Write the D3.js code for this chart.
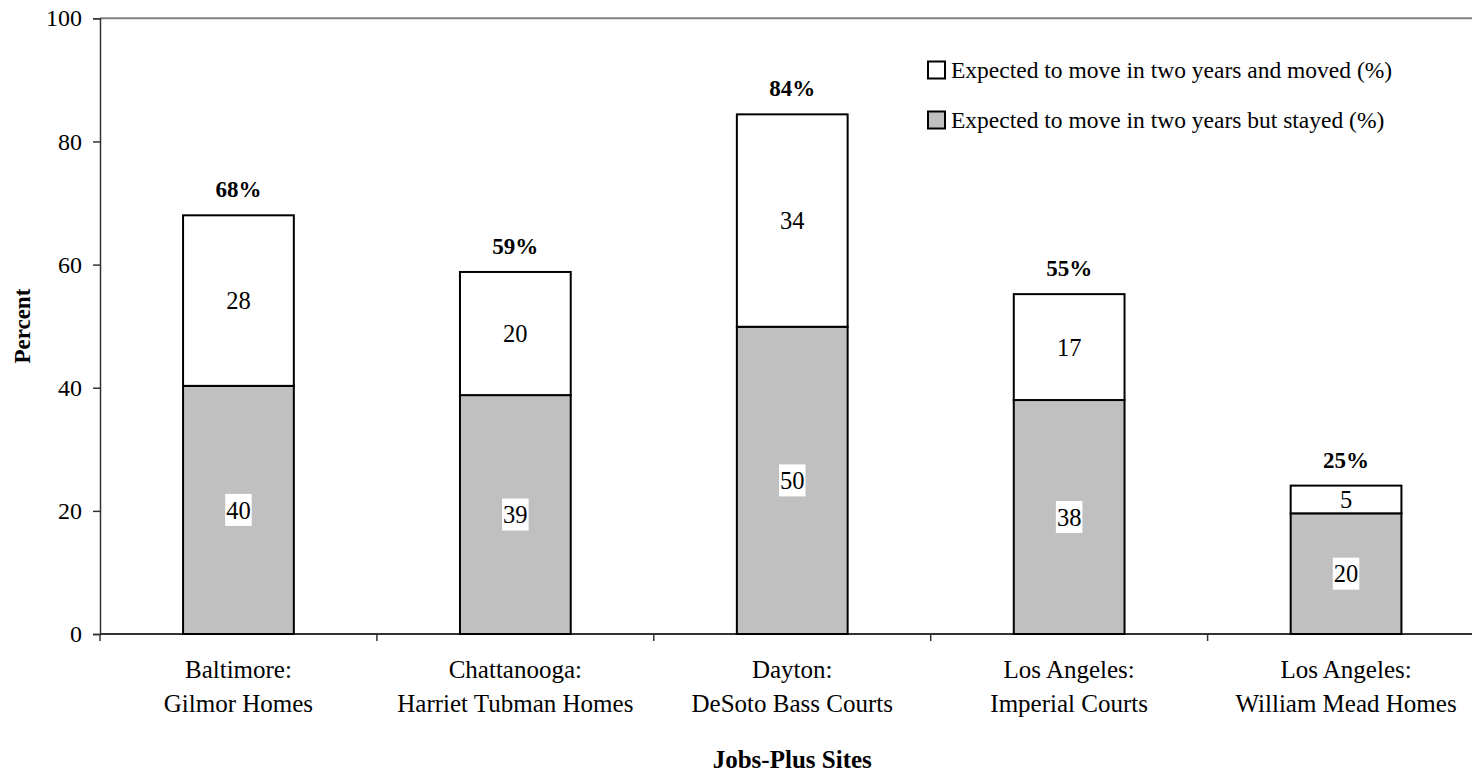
<!DOCTYPE html>
<html>
<head>
<meta charset="utf-8">
<script src="https://cdn.jsdelivr.net/npm/d3@7"></script>
<style>
  html, body { margin: 0; padding: 0; background: #fff; }
  svg { display: block; font-family: "Liberation Serif", "Times New Roman", serif; }
</style>
</head>
<body>
<svg id="chart" width="1472" height="775"></svg>
<script>
const categories = [
  ["Baltimore:", "Gilmor Homes"],
  ["Chattanooga:", "Harriet Tubman Homes"],
  ["Dayton:", "DeSoto Bass Courts"],
  ["Los Angeles:", "Imperial Courts"],
  ["Los Angeles:", "William Mead Homes"]
];
const stayed = [40.3, 38.8, 49.9, 38.0, 19.6];
const moved = [27.7, 20.0, 34.5, 17.2, 4.5];
const stayedLabels = ["40", "39", "50", "38", "20"];
const movedLabels = ["28", "20", "34", "17", "5"];
const totalLabels = ["68%", "59%", "84%", "55%", "25%"];
const yTicks = [0, 20, 40, 60, 80, 100];
const seriesNames = ["Expected to move in two years and moved (%)", "Expected to move in two years but stayed (%)"];
const seriesColors = ["#ffffff", "#c0c0c0"];

(function () {
const svg = d3.select("#chart");
const pLeft = 100, pRight = 1484.5, pTop = 18.3, pBottom = 634;
const fs = 24.5;

const x = d3.scaleBand().domain(d3.range(categories.length)).range([pLeft, pRight]).padding(0);
const y = d3.scaleLinear().domain([0, 100]).range([pBottom, pTop]);
const barW = x.bandwidth() * 0.4;

// top frame line
svg.append("line").attr("x1", pLeft).attr("x2", pRight).attr("y1", y(100)).attr("y2", y(100))
  .attr("stroke", "#808080").attr("stroke-width", 2);

// y axis
const yAxis = svg.append("g").attr("transform", `translate(${pLeft},0)`)
  .call(d3.axisLeft(y).tickValues(yTicks).tickSize(7).tickPadding(11).tickFormat(d3.format("d")));
yAxis.select(".domain").attr("stroke", "#333").attr("stroke-width", 1.5);
yAxis.selectAll(".tick line").attr("stroke", "#333").attr("stroke-width", 1.5);
yAxis.selectAll(".tick text").attr("font-size", 24).attr("font-family", "Liberation Serif").attr("fill", "#000");

// x axis line and boundary ticks
const bounds = d3.range(categories.length + 1).map(i => pLeft + i * x.step());
svg.append("line").attr("x1", pLeft).attr("x2", pRight).attr("y1", pBottom).attr("y2", pBottom)
  .attr("stroke", "#333").attr("stroke-width", 2);
svg.selectAll(".xtick").data(bounds).enter().append("line")
  .attr("x1", d => d).attr("x2", d => d).attr("y1", pBottom).attr("y2", pBottom + 7)
  .attr("stroke", "#333").attr("stroke-width", 1.5);

const cx = i => x(i) + x.bandwidth() / 2;

// category labels
const catG = svg.selectAll(".cat").data(categories).enter().append("text")
  .attr("text-anchor", "middle").attr("font-size", 25).attr("fill", "#000");
catG.append("tspan").attr("x", (d, i) => cx(i)).attr("y", 678).text(d => d[0]);
catG.append("tspan").attr("x", (d, i) => cx(i)).attr("y", 712).text(d => d[1]);

// bars
svg.selectAll(".stayed").data(stayed).enter().append("rect")
  .attr("x", (d, i) => cx(i) - barW / 2).attr("width", barW)
  .attr("y", d => y(d)).attr("height", d => y(0) - y(d))
  .attr("fill", seriesColors[1]).attr("stroke", "#000").attr("stroke-width", 2);
svg.selectAll(".moved").data(moved).enter().append("rect")
  .attr("x", (d, i) => cx(i) - barW / 2).attr("width", barW)
  .attr("y", (d, i) => y(stayed[i] + d)).attr("height", (d, i) => y(stayed[i]) - y(stayed[i] + d))
  .attr("fill", seriesColors[0]).attr("stroke", "#000").attr("stroke-width", 2);

// moved labels
svg.selectAll(".mlab").data(moved).enter().append("text")
  .attr("x", (d, i) => cx(i)).attr("y", (d, i) => y(stayed[i] + d / 2))
  .attr("dy", "0.35em").attr("text-anchor", "middle").attr("font-size", fs).attr("fill", "#000")
  .text((d, i) => movedLabels[i]);

// stayed labels with white boxes
const sl = svg.selectAll(".slab").data(stayed).enter().append("g");
sl.each(function (d, i) {
  const g = d3.select(this);
  const t = g.append("text").attr("x", cx(i)).attr("y", y(d / 2)).attr("dy", "0.35em")
    .attr("text-anchor", "middle").attr("font-size", fs).attr("fill", "#000").text(stayedLabels[i]);
  const bb = t.node().getBBox();
  g.insert("rect", "text").attr("x", bb.x - 1).attr("y", y(d / 2) - 16).attr("width", bb.width + 2).attr("height", 32)
    .attr("fill", "#fff");
});

// total labels
svg.selectAll(".tlab").data(stayed).enter().append("text")
  .attr("x", (d, i) => cx(i)).attr("y", (d, i) => y(d + moved[i]) - 26)
  .attr("dy", "0.35em").attr("text-anchor", "middle").attr("font-size", 23).attr("font-weight", "bold")
  .attr("fill", "#000").text((d, i) => totalLabels[i]);

// legend
const leg = svg.selectAll(".leg").data(seriesNames).enter().append("g")
  .attr("transform", (d, i) => `translate(928, ${70 + i * 50})`);
leg.append("rect").attr("x", 0).attr("y", -8.5).attr("width", 17).attr("height", 17)
  .attr("fill", (d, i) => seriesColors[i]).attr("stroke", "#000").attr("stroke-width", 2);
leg.append("text").attr("x", 23).attr("y", 0).attr("dy", "0.33em").attr("font-size", 23.5).attr("fill", "#000")
  .text(d => d);

// axis titles
svg.append("text").attr("transform", `translate(22, ${(pTop + pBottom) / 2}) rotate(-90)`)
  .attr("text-anchor", "middle").attr("dy", "0.35em").attr("font-size", 23).attr("font-weight", "bold").text("Percent");
svg.append("text").attr("x", (pLeft + pRight) / 2).attr("y", 768)
  .attr("text-anchor", "middle").attr("font-size", 25).attr("font-weight", "bold").text("Jobs-Plus Sites");
})();
</script>
</body>
</html>
